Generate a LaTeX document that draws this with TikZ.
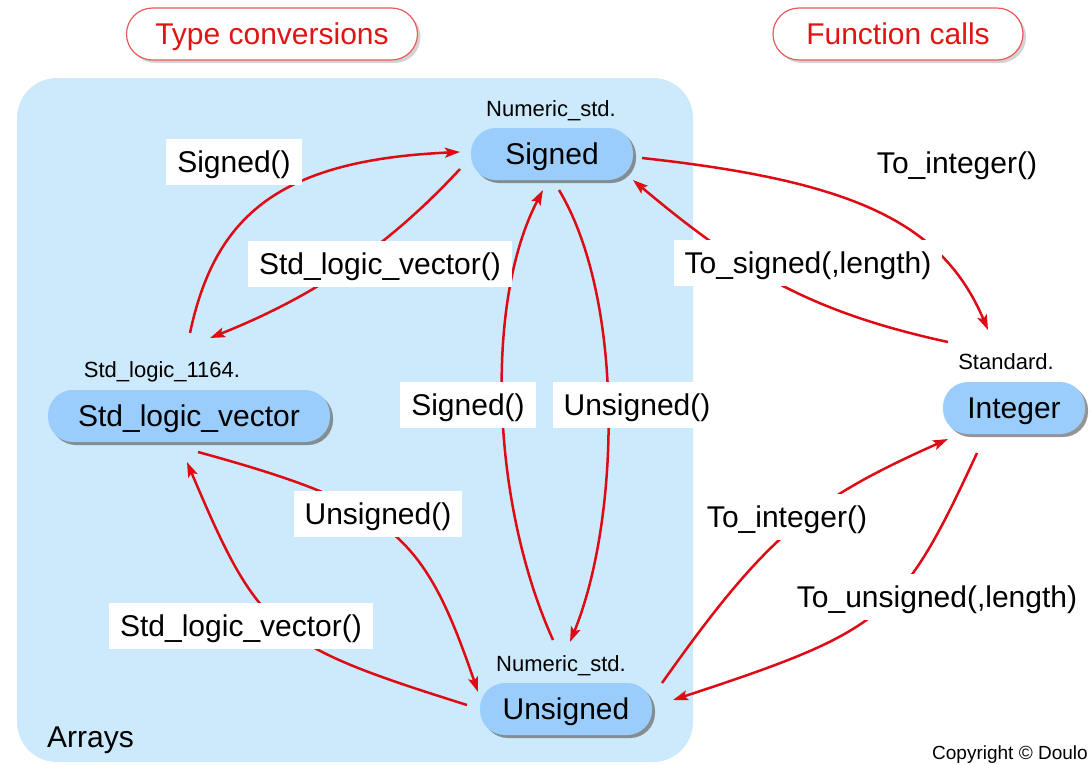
\documentclass[tikz,border=0pt]{standalone}
\usepackage{fontspec}
\setmainfont{Liberation Sans}
\usetikzlibrary{arrows.meta,calc,shadows}
\definecolor{panelblue}{RGB}{204,234,251}
\definecolor{nodeblue}{RGB}{155,205,252}
\definecolor{arrred}{RGB}{222,10,20}
\definecolor{titlered}{RGB}{225,20,20}
\begin{document}
\begin{tikzpicture}[x=1pt,y=-1pt,
  typebox/.style={fill=nodeblue, rounded corners=25pt, inner sep=0pt,
    minimum height=52pt, text height=21.5pt, text depth=0pt,
    font=\fontsize{30}{32}\selectfont,
    drop shadow={shadow xshift=3pt, shadow yshift=-3pt, opacity=0.7, fill=black!60}},
  pkg/.style={font=\fontsize{22}{24}\selectfont, inner sep=0pt,
    text height=16pt, text depth=0pt},
  lbl/.style={fill=white, inner xsep=11pt, inner ysep=0pt, minimum height=46pt,
    text height=21.5pt, text depth=0pt, font=\fontsize{30}{32}\selectfont},
  conv/.style={draw=arrred, line width=2.5pt,
    -{Stealth[length=15pt,width=10pt,inset=3pt]}},
  titlebox/.style={draw=titlered!70, line width=1.2pt, fill=white,
    rounded corners=26pt, minimum height=52pt, inner sep=0pt, text=titlered,
    text height=21.5pt, text depth=0pt,
    font=\fontsize{30}{32}\selectfont,
    drop shadow={shadow xshift=3pt, shadow yshift=-3pt, opacity=0.35, fill=black!50}}
]
\useasboundingbox (0,0) rectangle (1092,764);
% panel
\fill[panelblue, rounded corners=40pt] (17,78) rectangle (693,762);
% titles
\node[titlebox, minimum width=291pt] (tc) at (272,34) {Type conversions};
\node[titlebox, minimum width=250pt] (fc) at (898,34) {Function calls};
% type nodes
\node[typebox, minimum width=162pt] (sig) at (552,154) {Signed};
\node[pkg] (siglbl) at (551,108) {Numeric\_std.};
\node[typebox, minimum width=282pt] (slv) at (189,416) {Std\_logic\_vector};
\node[pkg] (slvlbl) at (162,369) {Std\_logic\_1164.};
\node[typebox, minimum width=142pt] (int) at (1014,408) {Integer};
\node[pkg] (intlbl) at (1006,361) {Standard.};
\node[typebox, minimum width=172pt] (uns) at (566,709) {Unsigned};
\node[pkg] (unslbl) at (561,663) {Numeric\_std.};
% connectors
\draw[conv] ($(slvlbl)+(28,-36)$) .. controls (215,215) and (280,160) .. ($(sig)+(-92,-2)$);
\draw[conv] ($(sig)+(-92,15)$) .. controls (385,250) and (310,298) .. ($(slvlbl)+(48,-31)$);
\draw[conv] ($(sig)+(90,4)$) .. controls (853,181) and (942,222) .. ($(intlbl)+(-18,-31)$);
\draw[conv] ($(intlbl)+(-58,-19)$) .. controls (810,312) and (740,270) .. ($(sig)+(81,26)$);
\draw[conv] ($(unslbl)+(-8,-23)$) .. controls (490,500) and (485,300) .. ($(sig)+(-9,36)$);
\draw[conv] ($(sig)+(7,36)$) .. controls (625,300) and (620,520) .. ($(unslbl)+(9,-21)$);
\draw[conv] ($(slv)+(9,36)$) .. controls (395,506) and (424,535) .. ($(uns)+(-88,-17)$);
\draw[conv] ($(uns)+(-99,-4)$) .. controls (273,644) and (259,632) .. ($(slv)+(-2,46)$);
\draw[conv] ($(uns)+(96,-26)$) .. controls (766,536) and (809,501) .. ($(int)+(-66,31)$);
\draw[conv] ($(int)+(-37,45)$) .. controls (901,617) and (886,630) .. ($(uns)+(107,-9)$);
% labels
\node[lbl] (l1) at (234,162) {Signed()};
\node[lbl] (l2) at (380,264) {Std\_logic\_vector()};
\node[lbl] (l3) at (957,163) {To\_integer()};
\node[lbl] (l4) at (808,263) {To\_signed(,length)};
\node[lbl] (l5) at (468,405) {Signed()};
\node[lbl] (l6) at (637,405) {Unsigned()};
\node[lbl] (l7) at (378,514) {Unsigned()};
\node[lbl] (l8) at (787,517) {To\_integer()};
\node[lbl] (l9) at (241,626) {Std\_logic\_vector()};
\node[lbl] (l10) at (937,597) {To\_unsigned(,length)};
% other texts
\node[font=\fontsize{30}{32}\selectfont, anchor=west, inner sep=0pt] (arr) at (47,740) {Arrays};
\node[font=\fontsize{19}{20}\selectfont, anchor=west, inner sep=0pt] (cr) at (932,755) {Copyright © Doulo};
\end{tikzpicture}
\end{document}
